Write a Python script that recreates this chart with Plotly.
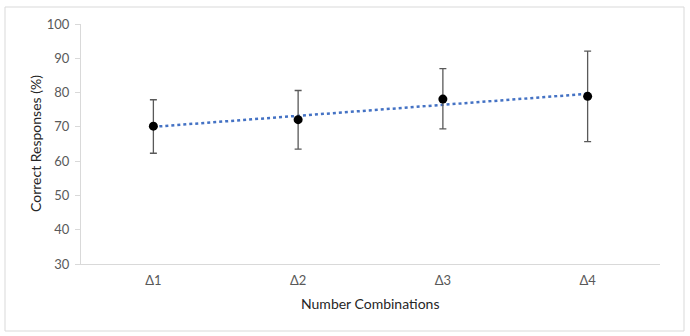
import numpy as np
import plotly.graph_objects as go

categories = ["Δ1", "Δ2", "Δ3", "Δ4"]
means = [70.2, 72.1, 78.1, 78.9]
err_plus = [7.7, 8.5, 8.9, 13.2]
err_minus = [7.9, 8.6, 8.7, 13.2]
y_ticks = [30, 40, 50, 60, 70, 80, 90, 100]

# Linear trendline fitted to the means
xi = np.arange(len(categories))
slope, intercept = np.polyfit(xi, means, 1)
trend = [intercept + slope * i for i in xi]

font_family = "Lato, 'Open Sans', sans-serif"

fig = go.Figure()
fig.add_trace(go.Scatter(
    x=categories, y=trend, mode="lines",
    line=dict(color="#4472C4", width=2.5, dash="dot"),
    hoverinfo="skip", showlegend=False,
))
fig.add_trace(go.Scatter(
    x=categories, y=means, mode="markers",
    marker=dict(color="black", size=9),
    error_y=dict(type="data", symmetric=False, array=err_plus, arrayminus=err_minus,
                 color="#595959", thickness=1.3, width=3.5),
    showlegend=False,
))

fig.update_layout(
    width=690, height=336,
    margin=dict(l=81, r=30, t=24, b=72),
    paper_bgcolor="white", plot_bgcolor="white",
    font=dict(family=font_family, size=13, color="#595959"),
    xaxis=dict(
        range=[-0.5, 3.5], showgrid=False, zeroline=False,
        showline=True, linecolor="#D9D9D9", linewidth=1.3,
        ticks="", tickfont=dict(size=13, color="#595959"),
        ticklabelstandoff=4,
    ),
    yaxis=dict(
        range=[30, 100], tickvals=y_ticks, showgrid=False, zeroline=False,
        showline=True, linecolor="#D9D9D9", linewidth=1.3,
        ticks="outside", ticklen=5, tickcolor="#D9D9D9", tickwidth=1,
        tickfont=dict(size=13, color="#595959"),
        ticklabelstandoff=3,
    ),
    annotations=[
        dict(text="Correct Responses (%)", xref="paper", yref="paper",
             x=(35 - 81) / 579, y=0.5, textangle=-90, showarrow=False,
             xanchor="center", yanchor="middle",
             font=dict(size=14, color="#262626", family=font_family)),
        dict(text="Number Combinations", xref="paper", yref="paper",
             x=(370 - 81) / 579, y=-(303 - 264) / 240, showarrow=False,
             xanchor="center", yanchor="middle",
             font=dict(size=14, color="#262626", family=font_family)),
    ],
    shapes=[
        dict(type="rect", xref="paper", yref="paper",
             x0=(5 - 81) / 579, x1=(684 - 81) / 579,
             y0=-(331 - 264) / 240, y1=1 + (24 - 7) / 240,
             line=dict(color="#D9D9D9", width=1)),
    ],
)

fig.write_html("out.html")
